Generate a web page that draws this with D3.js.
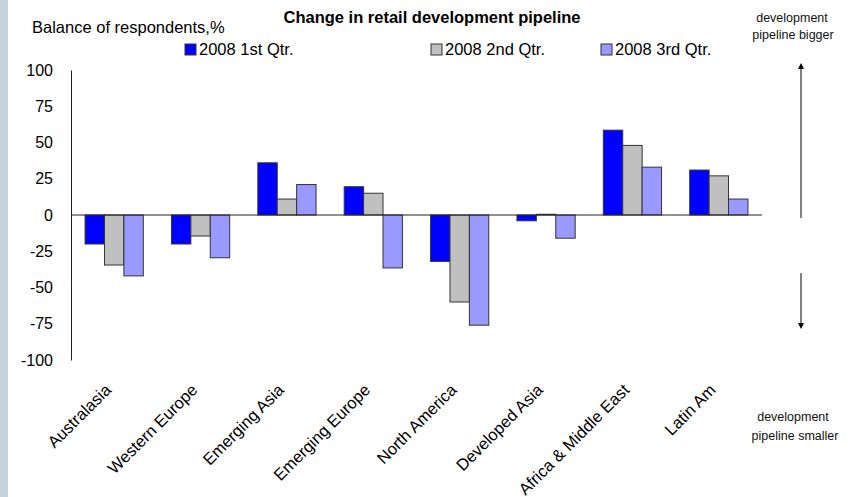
<!DOCTYPE html>
<html>
<head>
<meta charset="utf-8">
<script src="https://cdn.jsdelivr.net/npm/d3@7/dist/d3.min.js"></script>
<style>
  body { margin: 0; background: #fff; }
  svg { display: block; font-family: "Liberation Sans", Arial, sans-serif; }
</style>
</head>
<body>
<div id="chart"></div>
<script>
// data
const categories = ["Australasia", "Western Europe", "Emerging Asia", "Emerging Europe",
  "North America", "Developed Asia", "Africa & Middle East", "Latin Am"];
const seriesNames = ["2008 1st Qtr.", "2008 2nd Qtr.", "2008 3rd Qtr."];
const q1 = [-20, -20, 36, 19.5, -32, -4, 58.5, 31];
const q2 = [-34.5, -14.5, 11, 15, -60, 0.5, 48, 27];
const q3 = [-42, -29.5, 21, -36.5, -76, -16, 33, 11];
const yTicks = [100, 75, 50, 25, 0, -25, -50, -75, -100];
const colors = ["#0000ff", "#c0c0c0", "#9999ff"];

const W = 851, H = 497;
const svg = d3.select("#chart").append("svg")
  .attr("width", W).attr("height", H);

// left edge strip
svg.append("rect").attr("x", 0).attr("y", 0).attr("width", 8).attr("height", H)
  .attr("fill", "#c6d3df");

const x = d3.scaleBand().domain(categories).range([71, 762]);
const half = 0.337;
const x1 = d3.scaleBand().domain(seriesNames)
  .range([x.bandwidth() * (0.5 - half), x.bandwidth() * (0.5 + half)]);
const y = d3.scaleLinear().domain([-100, 100]).range([360, 70]);

const rows = categories.map((c, i) => ({ cat: c, vals: [q1[i], q2[i], q3[i]] }));

// bars
const groups = svg.append("g").selectAll("g").data(rows).join("g")
  .attr("transform", d => "translate(" + x(d.cat) + ",0)");
groups.selectAll("rect")
  .data(d => d.vals.map((v, k) => ({ v: v, k: k })))
  .join("rect")
  .attr("x", d => x1(seriesNames[d.k]))
  .attr("width", x1.bandwidth())
  .attr("y", d => y(Math.max(0, d.v)))
  .attr("height", d => Math.abs(y(d.v) - y(0)))
  .attr("fill", d => colors[d.k])
  .attr("stroke", "#333")
  .attr("stroke-width", 1);

// zero line
svg.append("line")
  .attr("x1", 71).attr("x2", 762)
  .attr("y1", y(0)).attr("y2", y(0))
  .attr("stroke", "#222").attr("stroke-width", 1);

// y axis
const yAxis = svg.append("g")
  .attr("transform", "translate(71,0)")
  .call(d3.axisLeft(y).tickValues(yTicks).tickFormat(d => String(d))
    .tickSize(0).tickSizeOuter(0).tickPadding(18));
yAxis.select(".domain").attr("stroke", "#222");
yAxis.selectAll("text")
  .attr("font-size", 16).attr("fill", "#000")
  .attr("font-family", "Liberation Sans, Arial, sans-serif");

// category labels
svg.append("g").selectAll("text").data(categories).join("text")
  .attr("transform", d => "translate(" + (x(d) + x.bandwidth() / 2 - 2) + ",391) rotate(-45)")
  .attr("text-anchor", "end")
  .attr("font-size", 16.5)
  .text(d => d);

// titles
svg.append("text").attr("x", 432).attr("y", 23).attr("text-anchor", "middle")
  .attr("font-size", 16.5).attr("font-weight", "bold").text("Change in retail development pipeline");
svg.append("text").attr("x", 32).attr("y", 33).attr("font-size", 16.5)
  .text("Balance of respondents,%");

// legend
const legX = [185, 431, 601];
const leg = svg.append("g").selectAll("g").data(seriesNames).join("g")
  .attr("transform", (d, i) => "translate(" + legX[i] + ",44)");
leg.append("rect").attr("width", 11).attr("height", 11)
  .attr("fill", (d, i) => colors[i]).attr("stroke", "#333").attr("stroke-width", 1);
leg.append("text").attr("x", 14).attr("y", 11).attr("font-size", 16.5).text(d => d);

// right side annotations
const note = svg.append("g").attr("font-size", 12.5).attr("text-anchor", "middle").attr("fill", "#111");
note.append("text").attr("x", 792).attr("y", 22).text("development");
note.append("text").attr("x", 793).attr("y", 39).text("pipeline bigger");
note.append("text").attr("x", 793).attr("y", 421).text("development");
note.append("text").attr("x", 795).attr("y", 440).text("pipeline smaller");

svg.append("defs").append("marker")
  .attr("id", "ah").attr("viewBox", "0 0 6 6").attr("refX", 3).attr("refY", 3)
  .attr("markerWidth", 6).attr("markerHeight", 6).attr("orient", "auto")
  .append("path").attr("d", "M0,0 L6,3 L0,6 Z").attr("fill", "#000");
svg.append("line").attr("x1", 801).attr("x2", 801).attr("y1", 218).attr("y2", 66)
  .attr("stroke", "#000").attr("stroke-width", 1).attr("marker-end", "url(#ah)");
svg.append("line").attr("x1", 801).attr("x2", 801).attr("y1", 273).attr("y2", 326)
  .attr("stroke", "#000").attr("stroke-width", 1).attr("marker-end", "url(#ah)");
</script>
</body>
</html>
